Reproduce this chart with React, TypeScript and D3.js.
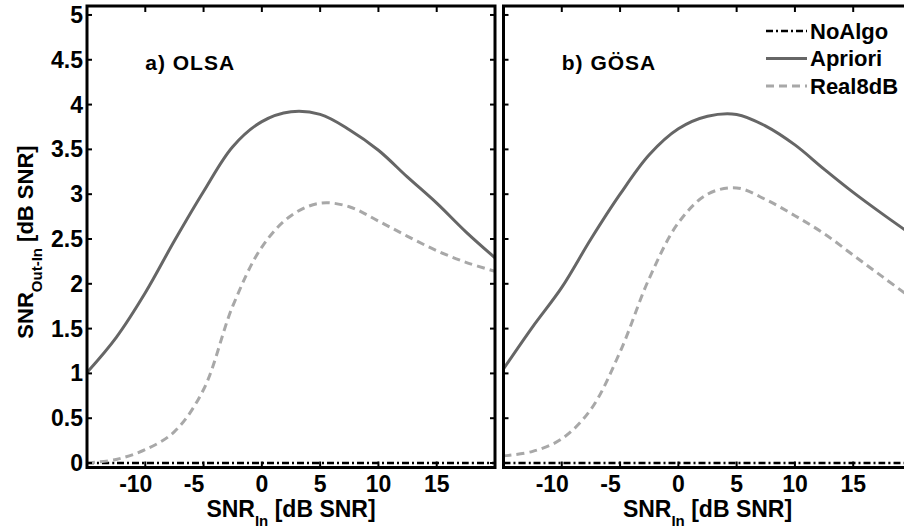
import React from "react";
import * as d3 from "d3";

const snrIn = [-15, -12.5, -10, -7.5, -5, -2.5, 0, 2.5, 5, 7.5, 10, 12.5, 15, 17.5, 20];
const olsaNoAlgo = snrIn.map(() => 0);
const olsaApriori = [1.01, 1.4, 1.9, 2.48, 3.03, 3.53, 3.81, 3.92, 3.89, 3.72, 3.49, 3.19, 2.9, 2.58, 2.29];
const olsaReal8dB = [0.0, 0.04, 0.15, 0.35, 0.82, 1.75, 2.41, 2.76, 2.9, 2.86, 2.7, 2.53, 2.37, 2.24, 2.14];
const gosaNoAlgo = snrIn.map(() => 0);
const gosaApriori = [1.05, 1.52, 1.96, 2.5, 3.0, 3.44, 3.73, 3.87, 3.89, 3.76, 3.55, 3.28, 3.02, 2.78, 2.55];
const gosaReal8dB = [0.08, 0.13, 0.27, 0.6, 1.24, 2.06, 2.68, 3.0, 3.07, 2.94, 2.76, 2.56, 2.32, 2.08, 1.84];

const xTicks = [-10, -5, 0, 5, 10, 15];
const yTicks = [0, 0.5, 1, 1.5, 2, 2.5, 3, 3.5, 4, 4.5, 5];
const yTickLabels = ["0", "0.5", "1", "1.5", "2", "2.5", "3", "3.5", "4", "4.5", "5"];
const seriesNames = ["NoAlgo", "Apriori", "Real8dB"];
const panelTitles = ["a) OLSA", "b) GÖSA"];

const FONT = "'Liberation Sans', Arial, Helvetica, sans-serif";

const styles = [
  { stroke: "#000000", width: 2.5, dash: "7 3 2 3" },
  { stroke: "#666666", width: 3, dash: "none" },
  { stroke: "#a8a8a8", width: 3, dash: "8 5" },
];

type PanelProps = {
  left: number;
  idx: number;
  series: number[][];
  showY: boolean;
  legend: boolean;
};

const W = 408;
const TOP = 6;
const BOTTOM = 467.5;

function Panel({ left, idx, series, showY, legend }: PanelProps) {
  const x = d3.scaleLinear().domain([-15, 20]).range([left, left + W]);
  const y = d3.scaleLinear().domain([-0.05, 5.1]).range([BOTTOM, TOP]);
  const line = d3
    .line<number>()
    .x((_, i) => x(snrIn[i]))
    .y((d) => y(d))
    .curve(d3.curveCatmullRom.alpha(0.5));
  const clipId = `clip${idx}`;
  const tl = 5;
  return (
    <g>
      <defs>
        <clipPath id={clipId}>
          <rect x={left} y={TOP} width={W} height={BOTTOM - TOP} />
        </clipPath>
      </defs>
      <g clipPath={`url(#${clipId})`}>
        {series.map((s, k) => (
          <path
            key={k}
            d={line(s) || ""}
            fill="none"
            stroke={styles[k].stroke}
            strokeWidth={styles[k].width}
            strokeDasharray={styles[k].dash}
          />
        ))}
      </g>
      {xTicks.map((t) => (
        <g key={"xt" + t}>
          <line x1={x(t)} x2={x(t)} y1={TOP} y2={TOP + tl + 1} stroke="#000" strokeWidth={2} />
          <line x1={x(t)} x2={x(t)} y1={BOTTOM} y2={BOTTOM - tl - 1} stroke="#000" strokeWidth={2} />
          <text
            x={x(t)}
            dx={t < 0 ? -9.5 : 0}
            y={484}
            textAnchor="middle"
            dominantBaseline="central"
            fontFamily={FONT}
            fontWeight="bold"
            fontSize={23}
          >
            {t < 0 ? "-" + Math.abs(t) : String(t)}
          </text>
        </g>
      ))}
      {yTicks.map((t, i) => (
        <g key={"yt" + t}>
          <line x1={left} x2={left + tl} y1={y(t)} y2={y(t)} stroke="#000" strokeWidth={2} />
          <line x1={left + W} x2={left + W - tl} y1={y(t)} y2={y(t)} stroke="#000" strokeWidth={2} />
          {showY && (
            <text
              x={left - 4}
              y={y(t)}
              textAnchor="end"
              dominantBaseline="central"
              fontFamily={FONT}
              fontWeight="bold"
              fontSize={23}
            >
              {yTickLabels[i]}
            </text>
          )}
        </g>
      ))}
      <rect x={left} y={TOP} width={W} height={BOTTOM - TOP} fill="none" stroke="#000" strokeWidth={3} />
      <text
        x={x(-10)}
        y={y(4.47)}
        dominantBaseline="central"
        fontFamily={FONT}
        fontWeight="bold"
        fontSize={21}
        letterSpacing={1}
      >
        {panelTitles[idx]}
      </text>
      <text
        x={(left + left + W) / 2}
        y={517}
        textAnchor="middle"
        fontFamily={FONT}
        fontWeight="bold"
        fontSize={23}
      >
        SNR
        <tspan fontSize={15} dy={8.5}>In</tspan>
        <tspan dy={-8.5}> [dB SNR]</tspan>
      </text>
      {legend &&
        seriesNames.map((n, k) => {
          const ly = 31 + k * 27.5;
          return (
            <g key={n}>
              <line
                x1={766}
                x2={807}
                y1={ly}
                y2={ly}
                stroke={styles[k].stroke}
                strokeWidth={styles[k].width}
                strokeDasharray={styles[k].dash}
              />
              <text
                x={810}
                y={ly}
                dominantBaseline="central"
                fontFamily={FONT}
                fontWeight="bold"
                fontSize={22}
              >
                {n}
              </text>
            </g>
          );
        })}
    </g>
  );
}

export default function App() {
  return (
    <svg
      width={904}
      height={529}
      style={{ position: "absolute", left: 0, top: 0, background: "#fff" }}
    >
      <rect x={0} y={0} width={904} height={529} fill="#fff" />
      <Panel left={87} idx={0} series={[olsaNoAlgo, olsaApriori, olsaReal8dB]} showY={true} legend={false} />
      <Panel left={503.5} idx={1} series={[gosaNoAlgo, gosaApriori, gosaReal8dB]} showY={false} legend={true} />
      <text
        transform="translate(33,242) rotate(-90)"
        textAnchor="middle"
        fontFamily={FONT}
        fontWeight="bold"
        fontSize={22}
      >
        SNR
        <tspan fontSize={15} dy={9}>Out-In</tspan>
        <tspan dy={-9}> [dB SNR]</tspan>
      </text>
    </svg>
  );
}
